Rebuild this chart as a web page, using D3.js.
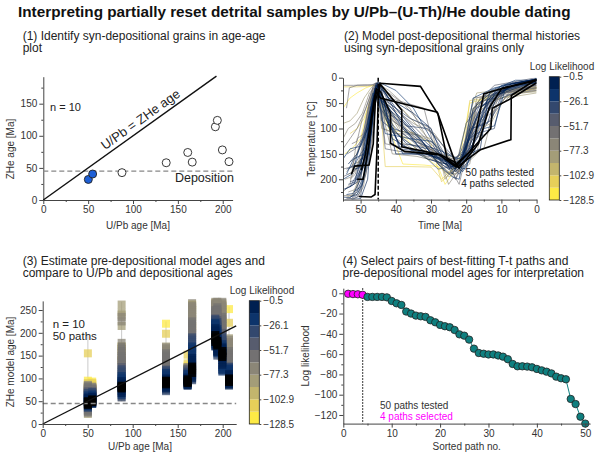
<!DOCTYPE html>
<html lang="en">
<head>
<meta charset="UTF-8">
<title>U/Pb–(U-Th)/He double dating</title>
<script src="https://d3js.org/d3.v7.min.js"></script>
<style>
  body { margin: 0; background: #fff; }
  svg text { font-family: "Liberation Sans", Arial, sans-serif; fill: #222; }
  .axis path, .axis line { stroke: #444; stroke-width: 1; }
  .axis text { font-size: 10px; fill: #333; }
  .lbl { font-size: 10px; fill: #333; }
  .sub { font-size: 12px; fill: #222; }
</style>
</head>
<body>
<div id="chart"></div>
<script>
// ---- data ----
const title = "Interpreting partially reset detrital samples by U/Pb\u2013(U-Th)/He double dating";

// panel 1: age-age plot
const upbAge = [50.2, 55, 87.7, 137, 161, 166, 191.8, 194, 199.6, 207];
const zheAge = [32, 40.5, 42.6, 58, 74, 59, 114, 124, 78, 59.7];
const synDepositional = [1, 1, 0, 0, 0, 0, 0, 0, 0, 0];
const depositionAge = 45;

// panel 4: sorted log likelihood of the 50 tested paths
const likelihood = [-0.5, -0.8, -1.0, -1.5, -3.6, -3.6, -3.6, -3.6, -4.0, -7.6,
  -9.9, -11.5, -18, -20, -22, -22.7, -23.3, -26.6, -28.6, -31.2,
  -32.5, -33.5, -36.2, -40.5, -41.8, -45.7, -54.6, -58.9, -59.6, -60.3,
  -60.3, -61.3, -62.5, -65, -69.7, -72, -72, -72.3, -73, -74.6,
  -76, -77.3, -79, -82.2, -83.8, -84.8, -104.2, -109.2, -121.7, -128.5];
const nSelected = 4;
const cbTicks = [-0.5, -26.1, -51.7, -77.3, -102.9, -128.5];

// panel 3: pre-depositional model ages per grain, ordered by path rank
const modelAges = [
  [45,48,42,50, 52,47,55,44,58,40,50,53, 60,57,38,63,55,66,62,35,68,58,64,70,48,72,
   75,30,78,65,82,25,72,80,68,85,77,28,74,83,70,79,22,86,76,81, 90,155,95,88],
  [50,52,48,54, 55,47,58,50,45,60,53,49, 62,57,44,65,60,52,68,63,58,70,46,66,61,72,
   74,69,76,64,78,71,67,80,73,62,77,75,79,70,82,68,76,81,72,78, 85,90,93,88],
  [80,84,78,82, 86,76,90,72,94,80,88,68, 95,100,64,105,92,110,98,60,115,102,120,58,108,125,
   130,140,150,160,170,135,145,155,165,178,118,128,138,148,225,235,245,262,215,240, 150,165,140,170],
  [90,93,87,95, 85,98,82,100,88,78,96,84, 102,105,80,108,112,75,110,115,104,118,72,120,107,113,
   125,130,135,140,145,150,155,160,165,122,128,138,148,158,168,132,142,152,162,170, 150,198,220,140],
  [95,92,98,90, 100,88,96,86,102,93,84,99, 104,97,108,85,110,101,112,94,106,115,89,118,103,120,
   105,108,112,115,118,120,122,110,114,117,119,121,123,125,111,116,109,113,107,124, 133,152,128,118],
  [118,122,112,126, 128,108,135,104,140,115,145,100, 150,155,160,165,170,96,175,180,185,132,190,142,158,168,
   195,200,205,210,215,220,225,230,235,240,245,250,255,260,265,198,212,228,242,258, 236,250,214,262],
  [185,190,180,195, 198,176,202,172,205,188,210,170, 212,215,218,220,222,225,228,208,230,200,216,224,232,206,
   235,238,240,243,245,248,250,252,255,258,260,262,265,268,236,242,247,253,257,263, 248,266,240,256],
  [178,172,182,175, 168,185,165,188,160,180,192,158, 196,200,155,204,208,212,150,216,220,198,224,206,228,214,
   232,236,240,244,248,252,256,260,264,268,234,238,242,246,250,254,258,262,266,230, 232,248,256,264],
  [150,155,147,160, 145,162,140,165,135,158,130,168, 125,170,120,175,115,180,172,185,178,190,118,195,182,200,
   205,210,215,220,225,230,235,240,245,250,255,260,265,268,208,218,228,238,248,258, 212,232,252,262],
  [95,98,92,100, 102,90,105,88,108,96,110,86, 112,115,118,120,122,84,125,114,126,108,119,124,106,117,
   130,135,140,145,150,155,160,165,170,175,180,185,128,138,148,158,168,178,188,132, 170,222,252,160]
];
const errLow = [15, 35, 50, 65, 80, 88, 165, 140, 110, 80];
const errHigh = [195, 100, 268, 225, 160, 270, 270, 270, 270, 258];

// panel 2: time-temperature paths [Ma, degC], ordered by rank
const ttPaths = [
  [[52.6,190],[51.7,174],[47.6,172],[46.4,130],[45.8,45],[44.3,11],[33,17],[28,72],[25.4,160],[23.2,172],[18.3,142],[15,32],[8.3,18],[0,6]],
  [[51,200],[49.3,200],[47.8,140],[46.8,80],[45.6,28],[44.4,40],[28.2,68],[24,150],[22.6,176],[16,142],[7.3,122],[7.2,35],[0,3]],
  [[50.5,234],[47,235],[45.9,230],[45.4,150],[45,40],[44.5,12],[38.3,64],[38.3,136],[28,150],[23,175],[21,160],[13,100],[12.6,60],[7,40],[0,10]],
  [[49.8,182],[48.6,150],[47.2,90],[46.1,40],[45.5,22],[44.3,28],[41.5,70],[41.5,129],[37.5,145],[27.3,152],[23.6,165],[22,178],[16.5,130],[13.5,60],[10,22],[0,4]],
  [[53,215],[51,205],[49,170],[47,110],[45.8,30],[44.8,12],[40,60],[34,110],[28,150],[24,175],[21,168],[17,120],[12,40],[6,10],[0,4]],
  [[54,230],[52,228],[50,200],[48,120],[46.5,50],[45.5,15],[43,30],[38,95],[33,140],[27,165],[23,180],[20,150],[15,70],[10,25],[4,8],[0,5]],
  [[52,180],[50.5,178],[48.5,140],[47,60],[45.7,22],[44.5,35],[41,120],[36,140],[29,155],[24,168],[22,175],[19,110],[16,60],[11,30],[5,12],[0,6]],
  [[55,235],[53,236],[51,225],[49,190],[47,100],[46,40],[45.2,18],[44,50],[39,80],[33,120],[29,160],[25,180],[22,165],[18,130],[14,45],[9,15],[0,3]],
  [[51.5,200],[50,160],[48,155],[46.8,70],[45.6,10],[44.2,20],[42,90],[37,130],[31,140],[26,170],[23,185],[21,170],[18.5,100],[14,90],[11,30],[5,10],[0,2]],
  [[53.5,170],[51,150],[49,120],[47.5,90],[46,25],[45,8],[42,40],[35,70],[30,100],[27,150],[24,190],[21,155],[17,80],[12,35],[0,8]],
  [[52.5,240],[50,238],[48,200],[46.5,60],[45.3,15],[44,30],[40,150],[32,150],[26,160],[23,178],[20,140],[18,60],[13,30],[7,12],[0,5]],
  [[54.5,220],[52,210],[50,180],[47.8,80],[46.2,35],[45,20],[43,80],[39,130],[31,160],[27,168],[23,172],[19,150],[16,140],[14,50],[8,20],[0,4]],
  [[55,200],[52.5,190],[50,130],[48,100],[46.5,40],[45.3,25],[43,110],[36,120],[30,125],[26,150],[22,160],[19,120],[15,80],[10,20],[0,10]],
  [[53,235],[51,230],[49.5,210],[47.5,140],[46,55],[45,30],[44,35],[41,70],[38,100],[32,148],[26,165],[23,175],[20,180],[17,100],[13,25],[6,5],[0,5]],
  [[54,190],[52,160],[49,150],[47,70],[45.8,20],[44.5,10],[40,25],[35,60],[30,120],[27,155],[24,170],[21,160],[18,40],[12,20],[0,2]],
  [[52,225],[50,215],[48.5,180],[47.2,120],[46,45],[45,12],[43.5,60],[38,150],[30,150],[25,160],[21,185],[18,150],[15,100],[12,95],[9,25],[0,8]],
  [[55,160],[53,140],[50,135],[48,90],[46.5,30],[45.2,40],[42,55],[37,90],[32,130],[28,170],[24,195],[22,200],[20,130],[16,60],[10,15],[0,3]],
  [[53.5,210],[51.5,205],[49,175],[47,100],[45.9,15],[44.7,20],[41,100],[36,110],[31,135],[25,150],[22,165],[19,120],[16,105],[13,35],[5,15],[0,10]],
  [[54.5,240],[52,238],[50,232],[48,150],[46.5,60],[45.4,30],[43,45],[39,140],[33,145],[28,160],[24,170],[22,150],[20,90],[17,60],[11,40],[7,10],[0,4]],
  [[52.8,175],[50,170],[48.2,110],[46.8,50],[45.5,18],[44.3,15],[42,50],[36,80],[31,95],[27,140],[24,180],[21,175],[18,130],[15,90],[12,30],[0,6]],
  [[55,220],[53,215],[51,190],[49,150],[47,80],[45.7,35],[44.5,60],[40,100],[35,125],[29,140],[25,165],[22,190],[19,160],[17,95],[13,85],[9,20],[0,2]],
  [[53,205],[51,200],[49,160],[47.5,75],[46,25],[45,18],[42,70],[37,95],[31,100],[27,130],[23,160],[21,145],[18,70],[14,30],[8,12],[0,5]],
  [[54,180],[52,175],[50,150],[48,130],[46.5,35],[45.3,10],[44,85],[39,115],[34,140],[28,180],[24,175],[20,165],[17,110],[12,100],[10,40],[0,12]],
  [[52.2,236],[50.5,230],[48.5,190],[47,130],[46,70],[45.4,25],[43.5,40],[40,60],[35,95],[30,130],[26,160],[23,168],[20,120],[16,50],[11,25],[0,5]],
  [[55,195],[52,185],[50,170],[48.5,100],[47,55],[45.8,20],[44.6,30],[41,85],[34,115],[29,150],[25,175],[22,170],[19,140],[17,50],[12,15],[0,0]],
  [[53.8,150],[51.5,140],[49.5,120],[47.5,50],[46,20],[45,15],[43,140],[35,150],[28,158],[25,165],[23,200],[21,160],[18,100],[15,45],[9,30],[0,14]],
  [[55,140],[53,120],[51,100],[48.5,60],[46.5,20],[45.2,25],[43,60],[38,100],[33,130],[28,150],[24,175],[21,165],[17,90],[13,60],[9,30],[0,20]],
  [[54,238],[52.5,238],[51,220],[49,160],[47,70],[45.8,40],[44,65],[39,130],[32,135],[27,150],[24,185],[22,210],[20,150],[16,110],[12,70],[8,30],[0,10]],
  [[55,15],[52,15],[49,14],[47,14],[45.8,12],[44.5,30],[40,70],[35,110],[30,145],[26,155],[22,170],[19,130],[15,60],[10,35],[0,25]],
  [[53,200],[51.5,190],[50,150],[48,80],[46.5,20],[45.3,10],[42,30],[36,60],[31,120],[28,170],[25,190],[22,178],[19,80],[16,40],[7,22],[0,18]],
  [[52.5,130],[51,125],[49.5,80],[47.5,40],[46.2,12],[45,10],[43,130],[36,140],[30,160],[26,175],[23,170],[20,145],[17,50],[12,40],[6,20],[0,15]],
  [[55,180],[52.5,175],[50.5,140],[48.5,100],[47,40],[45.6,15],[44,45],[40,80],[35,120],[29,145],[24,160],[21,150],[18,120],[14,110],[11,40],[5,15],[0,10]],
  [[54,60],[53.2,20],[51,15],[48,15],[46,14],[45,20],[42,40],[37,50],[32,60],[29,140],[25,180],[22,175],[19,100],[14,70],[10,30],[0,20]],
  [[53.5,225],[51.5,220],[49.5,180],[47.5,110],[46,30],[45,25],[43,90],[36,130],[30,150],[27,160],[24,165],[21,155],[18,60],[13,50],[8,20],[0,12]],
  [[52,210],[50.5,205],[48.8,160],[47.2,80],[46,30],[44.8,40],[41,60],[35,90],[29,110],[26,140],[23,185],[20,170],[17,150],[14,40],[7,15],[0,8]],
  [[55,232],[53,232],[51,230],[49,200],[47,150],[46,60],[45.2,30],[43,50],[38,110],[31,150],[26,180],[23,200],[20,160],[15,80],[11,60],[6,25],[0,20]],
  [[54,185],[52,170],[50,165],[48,130],[46.5,70],[45.4,20],[44,100],[40,110],[34,112],[29,130],[25,165],[22,185],[19,170],[16,60],[10,25],[0,22]],
  [[53,165],[51.5,160],[49,100],[47.5,45],[46,15],[45,12],[42,25],[38,50],[33,90],[28,120],[25,150],[22,160],[20,140],[17,40],[12,30],[0,16]],
  [[55,120],[53.5,100],[51.5,90],[49.5,70],[47.5,30],[45.6,18],[44.5,50],[41,150],[34,155],[28,165],[25,172],[22,170],[19,150],[15,140],[12,60],[7,28],[0,25]],
  [[52.8,240],[51,236],[49.2,215],[47.6,140],[46.2,50],[45,35],[43,70],[39,95],[34,125],[29,160],[26,185],[23,190],[20,170],[17,70],[12,45],[5,30],[0,22]],
  [[54.5,200],[52.5,195],[50.5,170],[48.5,140],[47,70],[45.8,30],[44.5,20],[41,40],[36,80],[30,100],[28,150],[25,210],[22,180],[19,100],[15,80],[10,30],[0,15]],
  [[55,225],[53,210],[51,120],[49,110],[47.5,50],[46,25],[44.8,30],[40,120],[34,145],[27,150],[24,160],[21,150],[18,40],[13,35],[7,20],[0,18]],
  [[53.5,190],[52,185],[50,160],[48,90],[46.5,40],[45.4,20],[43.5,100],[38,115],[33,130],[28,170],[25,195],[22,185],[19,120],[15,45],[10,30],[0,28]],
  [[52,170],[50.5,165],[48.5,150],[47,60],[45.8,25],[44.8,15],[42,35],[37,70],[32,110],[28,140],[26,200],[23,175],[20,90],[17,30],[11,25],[0,20]],
  [[55,90],[53,85],[51,70],[49,40],[47,20],[45.5,10],[44,40],[39,105],[35,110],[30,120],[26,150],[23,160],[20,130],[16,100],[13,90],[9,40],[0,30]],
  [[54,235],[52.5,232],[50.5,200],[49,120],[47.5,60],[46.2,30],[45,25],[42,60],[37,100],[31,140],[27,175],[24,190],[21,160],[18,80],[14,50],[8,35],[0,26]],
  [[55,18],[51,18],[48,17],[46,15],[44.5,40],[43,175],[36,175],[30,176],[27,200],[24,180],[21,150],[18,60],[15,45],[10,40],[0,20]],
  [[53,110],[51,100],[49,80],[47,40],[45.5,25],[43,60],[40,105],[35,108],[30,130],[27,205],[25,190],[21,160],[19,45],[16,42],[10,30],[0,22]],
  [[54.5,150],[52.5,140],[50,120],[48,60],[46.5,30],[45,15],[42,100],[37,120],[33,150],[28,175],[26,210],[23,180],[20,140],[17,50],[12,25],[0,20]],
  [[55,60],[53,40],[51,30],[48.5,20],[46.5,15],[45,20],[43,80],[38,170],[32,172],[28,175],[25,190],[22,165],[19,50],[14,40],[8,25],[0,18]]
];

// ---- setup ----
const svg = d3.select("#chart").append("svg").attr("width", 600).attr("height", 459);

const llMin = -128.5, llMax = -0.5;
const bandColors = d3.range(10).map(i => d3.interpolateCividis(1 - i / 9));
const colorQ = d3.scaleQuantize().domain([llMin, llMax]).range(bandColors);
const rankColor = r => r < nSelected ? "#000" : colorQ(likelihood[r]);

function axis(g, gen, scale, major, minor, tr, fmt) {
  g.append("g").attr("class", "axis").attr("transform", tr)
    .call(gen(scale).tickValues(major).tickSize(4).tickSizeOuter(0).tickPadding(2).tickFormat(fmt || d3.format("d")));
  g.append("g").attr("class", "axis").attr("transform", tr)
    .call(gen(scale).tickValues(minor).tickSize(2).tickSizeOuter(0).tickFormat(""))
    .select(".domain").remove();
}

function colorbar(g, x0, y0, w, h, tx, ty) {
  const cb = d3.scaleLinear().domain([llMin, llMax]).range([y0 + h, y0]);
  const step = (llMax - llMin) / 10;
  d3.range(10).forEach(i => {
    const lo = llMin + i * step;
    g.append("rect").attr("x", x0).attr("y", cb(lo + step)).attr("width", w)
      .attr("height", cb(lo) - cb(lo + step)).attr("fill", colorQ(lo + step / 2));
  });
  g.append("rect").attr("x", x0).attr("y", y0).attr("width", w).attr("height", h)
    .attr("fill", "none").attr("stroke", "#222").attr("stroke-width", 0.8);
  g.append("g").attr("class", "axis").attr("transform", `translate(${x0 + w},0)`)
    .call(d3.axisRight(cb).tickValues(cbTicks).tickSize(2).tickPadding(2)
      .tickFormat(d => d3.format(".1f")(d)))
    .select(".domain").remove();
  g.append("text").attr("class", "lbl").attr("x", tx).attr("y", ty)
    .attr("text-anchor", "middle").text("Log Likelihood");
}

function subtitle(x, y, lines) {
  const t = svg.append("text").attr("class", "sub").attr("x", x).attr("y", y);
  lines.forEach((s, i) => t.append("tspan").attr("x", x).attr("dy", i ? 12.5 : 0).text(s));
}

function yLabel(x, y, s) {
  svg.append("text").attr("class", "lbl").attr("text-anchor", "middle")
    .attr("transform", `translate(${x},${y}) rotate(-90)`).text(s);
}

svg.append("text").attr("x", 18).attr("y", 17).attr("font-size", 15.3)
  .attr("font-weight", "bold").style("fill", "#111").text(title);

subtitle(22.7, 39.5, ["(1) Identify syn-depositional grains in age-age", "plot"]);
subtitle(344, 39.5, ["(2) Model post-depositional thermal histories", "using syn-depositional grains only"]);
subtitle(22.7, 264.5, ["(3) Estimate pre-depositional model ages and", "compare to U/Pb and depositional ages"]);
subtitle(342.5, 264.5, ["(4) Select pairs of best-fitting T-t paths and", "pre-depositional model ages for interpretation"]);

// ---- panel 1 ----
const x1 = d3.scaleLinear().domain([0, 211]).range([43.3, 232.6]);
const y1 = d3.scaleLinear().domain([0, 192]).range([200, 76.7]);
const p1 = svg.append("g");
axis(p1, d3.axisBottom, x1, [0, 50, 100, 150, 200], [25, 75, 125, 175], `translate(0,${y1(0)})`);
axis(p1, d3.axisLeft, y1, [0, 50, 100, 150], [25, 75, 125, 175], `translate(${x1(0)},0)`);
p1.append("line").attr("x1", x1(0)).attr("x2", x1(211))
  .attr("y1", y1(depositionAge)).attr("y2", y1(depositionAge))
  .attr("stroke", "#888").attr("stroke-width", 1.3).attr("stroke-dasharray", "5,3");
p1.append("line").attr("x1", x1(0)).attr("y1", y1(0)).attr("x2", x1(193)).attr("y2", y1(193))
  .attr("stroke", "#111").attr("stroke-width", 1.4);
const ang1 = Math.atan2(y1(0) - y1(100), x1(100) - x1(0)) * 180 / Math.PI;
p1.append("text").attr("font-size", 13).attr("text-anchor", "middle")
  .attr("transform", `translate(${x1(114)},${y1(114)}) rotate(${-ang1})`)
  .attr("y", -4.5).text("U/Pb = ZHe age");
p1.append("text").attr("font-size", 12.5).attr("text-anchor", "end")
  .attr("x", 234).attr("y", 182).text("Deposition");
p1.append("text").attr("font-size", 11).attr("x", 50).attr("y", 110.5).text("n = 10");
p1.selectAll("circle").data(upbAge).join("circle")
  .attr("cx", d => x1(d)).attr("cy", (d, i) => y1(zheAge[i])).attr("r", 4)
  .attr("fill", (d, i) => synDepositional[i] ? "#1d5fd6" : "#fff")
  .attr("stroke", "#222").attr("stroke-width", 0.9);
svg.append("text").attr("class", "lbl").attr("text-anchor", "middle")
  .attr("x", 138).attr("y", 228.5).text("U/Pb age [Ma]");
yLabel(13.6, 149, "ZHe age [Ma]");

// ---- panel 2 ----
const x2 = d3.scaleLinear().domain([55, 0]).range([343, 536.6]);
const y2 = d3.scaleLinear().domain([0, 240]).range([77.7, 199.6]);
const p2 = svg.append("g");
svg.append("clipPath").attr("id", "clip2").append("rect")
  .attr("x", 343).attr("y", 77.7).attr("width", 193.6).attr("height", 121.9);
const lineTt = d3.line().x(d => x2(d[0])).y(d => y2(d[1]));
const paths = p2.append("g").attr("clip-path", "url(#clip2)");
d3.range(ttPaths.length - 1, -1, -1).forEach(r => {
  paths.append("path").attr("d", lineTt(ttPaths[r])).attr("fill", "none")
    .attr("stroke", rankColor(r))
    .attr("stroke-width", r < nSelected ? 1.6 : 0.9)
    .attr("stroke-opacity", r < nSelected ? 1 : 0.7);
});
p2.append("line").attr("x1", x2(depositionAge)).attr("x2", x2(depositionAge))
  .attr("y1", y2(0)).attr("y2", y2(240))
  .attr("stroke", "#000").attr("stroke-width", 1.5).attr("stroke-dasharray", "4,2");
axis(p2, d3.axisBottom, x2, [50, 40, 30, 20, 10, 0], [55, 45, 35, 25, 15, 5], `translate(0,${y2(240)})`);
axis(p2, d3.axisLeft, y2, [0, 50, 100, 150, 200], [25, 75, 125, 175, 225], `translate(${x2(55)},0)`);
p2.append("text").attr("font-size", 10).attr("text-anchor", "end").attr("x", 534).attr("y", 175.5).text("50 paths tested");
p2.append("text").attr("font-size", 10).attr("text-anchor", "end").attr("x", 534).attr("y", 186.5).text("4 paths selected");
colorbar(p2, 549.3, 76.7, 10, 123.3, 562, 70.3);
svg.append("text").attr("class", "lbl").attr("text-anchor", "middle")
  .attr("x", 440).attr("y", 228.5).text("Time [Ma]");
yLabel(315, 139, "Temperature [\u00b0C]");

// ---- panel 3 ----
const x3 = d3.scaleLinear().domain([0, 215]).range([42.7, 236.2]);
const y3 = d3.scaleLinear().domain([0, 270]).range([424, 300.9]);
const p3 = svg.append("g");
upbAge.forEach((u, g) => {
  p3.append("line").attr("x1", x3(u)).attr("x2", x3(u))
    .attr("y1", y3(errLow[g])).attr("y2", y3(Math.min(errHigh[g], 270)))
    .attr("stroke", "#bbb").attr("stroke-width", 0.8);
});
const sq = 8;
d3.range(likelihood.length - 1, -1, -1).forEach(r => {
  upbAge.forEach((u, g) => {
    p3.append("rect").attr("x", x3(u) - sq / 2).attr("y", y3(modelAges[g][r]) - sq / 2)
      .attr("width", sq).attr("height", sq)
      .attr("fill", rankColor(r)).attr("fill-opacity", r < nSelected ? 0.9 : 0.75);
  });
});
p3.append("line").attr("x1", x3(0)).attr("x2", x3(215))
  .attr("y1", y3(depositionAge)).attr("y2", y3(depositionAge))
  .attr("stroke", "#888").attr("stroke-width", 1.3).attr("stroke-dasharray", "5,3");
p3.append("line").attr("x1", x3(0)).attr("y1", y3(0)).attr("x2", x3(215)).attr("y2", y3(215))
  .attr("stroke", "#111").attr("stroke-width", 1.4);
axis(p3, d3.axisBottom, x3, [0, 50, 100, 150, 200], [25, 75, 125, 175], `translate(0,${y3(0)})`);
axis(p3, d3.axisLeft, y3, [0, 50, 100, 150, 200, 250], [25, 75, 125, 175, 225], `translate(${x3(0)},0)`);
p3.append("text").attr("font-size", 11.5).attr("x", 52.7).attr("y", 327.5).text("n = 10");
p3.append("text").attr("font-size", 11.5).attr("x", 52.7).attr("y", 339.5).text("50 paths");
colorbar(p3, 249.3, 300.7, 10, 123.3, 262, 293.6);
svg.append("text").attr("class", "lbl").attr("text-anchor", "middle")
  .attr("x", 140).attr("y", 450).text("U/Pb age [Ma]");
yLabel(13.6, 362, "ZHe model age [Ma]");

// ---- panel 4 ----
const x4 = d3.scaleLinear().domain([0, 51]).range([343.3, 590.1]);
const y4 = d3.scaleLinear().domain([-128.5, 5]).range([423.6, 288.2]);
const p4 = svg.append("g");
p4.append("line").attr("x1", x4(nSelected)).attr("x2", x4(nSelected))
  .attr("y1", y4(5)).attr("y2", y4(-128.5))
  .attr("stroke", "#222").attr("stroke-width", 1.2).attr("stroke-dasharray", "1.5,1.5");
p4.append("path").datum(likelihood)
  .attr("d", d3.line().x((d, i) => x4(i + 1)).y(d => y4(d)))
  .attr("fill", "none").attr("stroke", "#0f7f7f").attr("stroke-width", 1);
p4.selectAll("circle").data(likelihood).join("circle")
  .attr("cx", (d, i) => x4(i + 1)).attr("cy", d => y4(d)).attr("r", 3.7)
  .attr("fill", (d, i) => i < nSelected ? "#ff00ff" : "#0f7f7f")
  .attr("stroke", "#222").attr("stroke-width", 0.8);
axis(p4, d3.axisBottom, x4, [0, 10, 20, 30, 40, 50], [5, 15, 25, 35, 45], `translate(0,${y4(-128.5)})`);
axis(p4, d3.axisLeft, y4, [0, -20, -40, -60, -80, -100, -120], [-10, -30, -50, -70, -90, -110], `translate(${x4(0)},0)`);
p4.append("text").attr("font-size", 10).attr("x", 380).attr("y", 408.5).style("fill", "#333").text("50 paths tested");
p4.append("text").attr("font-size", 10).attr("x", 380).attr("y", 419.5).style("fill", "#ff00ff").text("4 paths selected");
svg.append("text").attr("class", "lbl").attr("text-anchor", "middle")
  .attr("x", 466.7).attr("y", 450).text("Sorted path no.");
yLabel(308.6, 356, "Log likelihood");
</script>
</body>
</html>
